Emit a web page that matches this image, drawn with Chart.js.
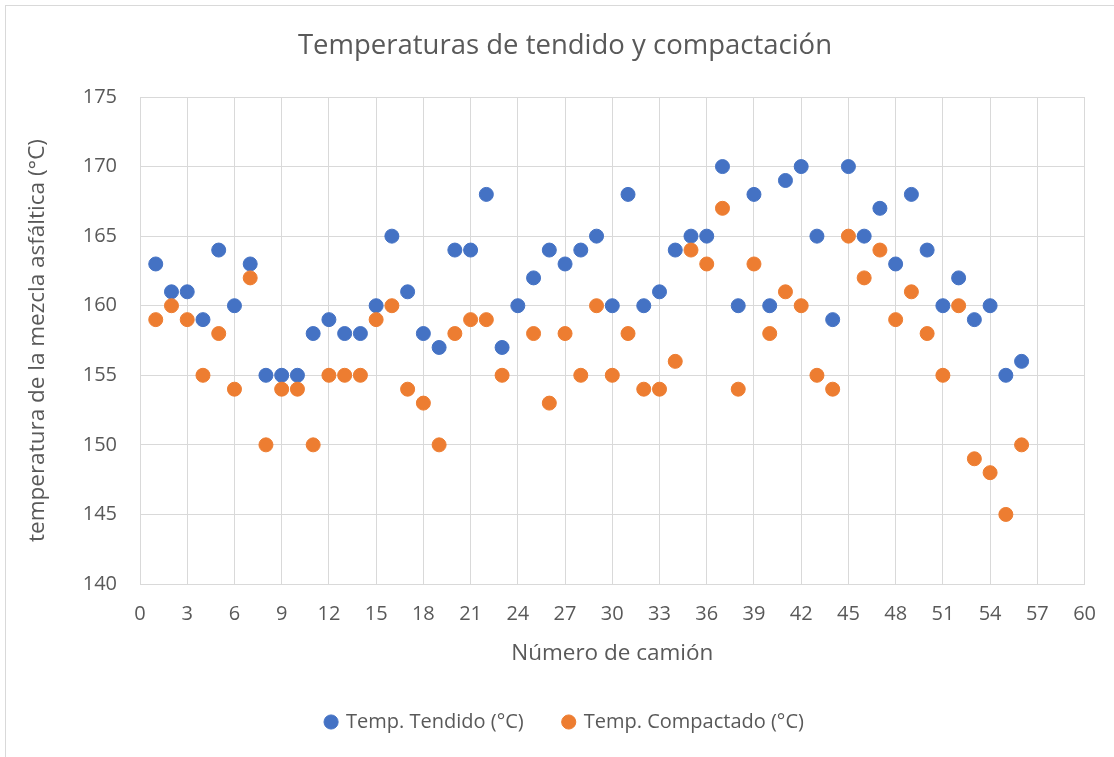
<!DOCTYPE html>
<html>
<head>
<meta charset="utf-8">
<script src="https://cdn.jsdelivr.net/npm/chart.js@4/dist/chart.umd.min.js"></script>
<style>
  html, body { margin: 0; padding: 0; background: #ffffff; }
  #frame { position: absolute; left: 5px; top: 5px; width: 1200px; height: 800px;
           border-left: 1px solid #d9d9d9; border-top: 1px solid #d9d9d9; box-sizing: border-box; }
  #wrap { position: absolute; left: 0; top: 0; width: 1114px; height: 757px; }
</style>
</head>
<body>
<div id="frame"></div>
<div id="wrap"><canvas id="c" width="1114" height="757"></canvas></div>
<script>
// ---- data ----
const camiones = [1,2,3,4,5,6,7,8,9,10,11,12,13,14,15,16,17,18,19,20,21,22,23,24,25,26,27,28,
  29,30,31,32,33,34,35,36,37,38,39,40,41,42,43,44,45,46,47,48,49,50,51,52,53,54,55,56];
const tempTendido = [163,161,161,159,164,160,163,155,155,155,158,159,158,158,160,165,161,158,157,164,
  164,168,157,160,162,164,163,164,165,160,168,160,161,164,165,165,170,160,168,160,
  169,170,165,159,170,165,167,163,168,164,160,162,159,160,155,156];
const tempCompactado = [159,160,159,155,158,154,162,150,154,154,150,155,155,155,159,160,154,153,150,158,
  159,159,155,null,158,153,158,155,160,155,158,154,154,156,164,163,167,154,163,158,
  161,160,155,154,165,162,164,159,161,158,155,160,149,148,145,150];
const seriesNames = ['Temp. Tendido (°C)', 'Temp. Compactado (°C)'];
const chartTitle = 'Temperaturas de tendido y compactación';
const xTitle = 'Número de camión';
const yTitle = 'temperatura de la mezcla asfáltica (°C)';

const toPoints = (ys) => camiones.map((x, i) => ({ x: x, y: ys[i] })).filter(p => p.y !== null);

const FONT = "'Open Sans', 'Liberation Sans', sans-serif";
const TXT = '#595959';
const GRID = '#d9d9d9';

new Chart(document.getElementById('c'), {
  type: 'scatter',
  data: {
    datasets: [
      { label: seriesNames[0], data: toPoints(tempTendido), order: 1,
        backgroundColor: '#4472C4', borderColor: '#4472C4', pointRadius: 7, pointBorderWidth: 1, pointHoverRadius: 7 },
      { label: seriesNames[1], data: toPoints(tempCompactado), order: 0,
        backgroundColor: '#ED7D31', borderColor: '#ED7D31', pointRadius: 7, pointBorderWidth: 1, pointHoverRadius: 7 }
    ]
  },
  options: {
    responsive: false,
    animation: false,
    layout: { padding: { left: 16, right: 0, top: 0, bottom: 15 } },
    plugins: {
      title: { display: true, text: chartTitle, color: TXT,
        font: { family: FONT, size: 27.5, weight: 'normal' },
        padding: { top: 29.5, bottom: 34.5 } },
      legend: { position: 'bottom',
        labels: { usePointStyle: true, pointStyle: 'circle', boxWidth: 10, boxHeight: 10,
          color: TXT, font: { family: FONT, size: 20 }, padding: 40,
          sort: (a, b) => a.datasetIndex - b.datasetIndex } },
      tooltip: { enabled: false }
    },
    scales: {
      x: { type: 'linear', min: 0, max: 60,
        ticks: { stepSize: 3, color: TXT, font: { family: FONT, size: 20 }, padding: 18 },
        grid: { color: GRID, lineWidth: 1, drawTicks: false },
        border: { color: GRID, width: 1 },
        title: { display: true, text: xTitle, color: TXT, font: { family: FONT, size: 22.5 },
          padding: { top: 0, bottom: 4.5 } },
        afterFit: (s) => { s.height = 88; } },
      y: { type: 'linear', position: 'left', min: 140, max: 175,
        ticks: { stepSize: 5, color: TXT, font: { family: FONT, size: 20 }, padding: 23 },
        grid: { color: GRID, lineWidth: 1, drawTicks: false },
        border: { color: GRID, width: 1 },
        title: { display: true, text: yTitle, color: TXT, font: { family: FONT, size: 22.5 },
          padding: { top: 8.5, bottom: 0 } },
        afterFit: (s) => { s.width = 124; } },
      y2: { type: 'linear', position: 'right', display: true,
        ticks: { display: false }, grid: { display: false }, border: { display: false },
        afterFit: (s) => { s.width = 29; } }
    }
  }
});
</script>
</body>
</html>
